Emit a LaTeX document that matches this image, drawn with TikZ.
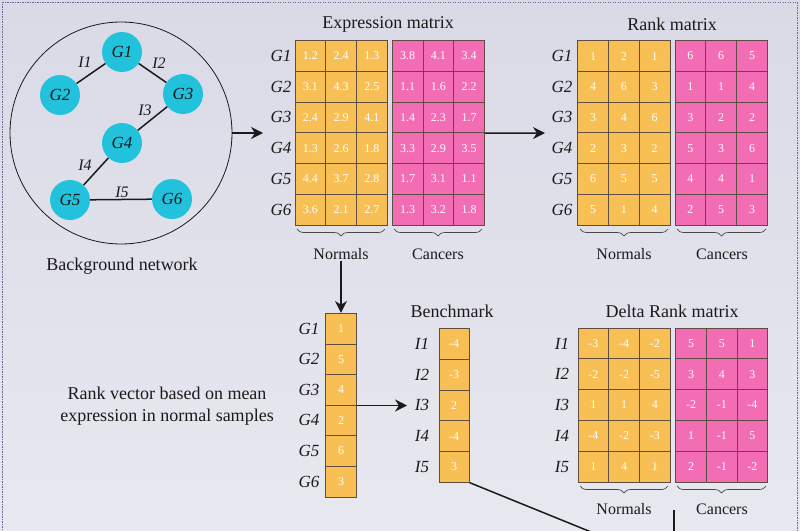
\documentclass[tikz,border=0pt]{standalone}
\usepackage{fontspec}
\setmainfont{Liberation Serif}
\usetikzlibrary{arrows.meta,decorations.pathreplacing}
\definecolor{bgtop}{HTML}{DADAE7}
\definecolor{bgbot}{HTML}{E8E8F0}
\definecolor{orn}{HTML}{F8BF55}
\definecolor{pnk}{HTML}{F36DB5}
\definecolor{cellline}{HTML}{5E4D40}
\definecolor{gnode}{HTML}{22C2DD}
\definecolor{ink}{HTML}{1A1A1A}
\begin{document}
\begin{tikzpicture}[x=1pt,y=-1pt,
  cellbox/.style={draw=cellline,line width=0.8pt,inner sep=0pt,text=white,
    font=\fontsize{12}{12}\selectfont},
  title/.style={text=ink,inner sep=1pt,font=\fontsize{18}{22}\selectfont},
  sublab/.style={text=ink,inner sep=1pt,font=\fontsize{16}{18}\selectfont},
  rowlab/.style={text=ink,inner sep=1pt,font=\fontsize{17}{18}\selectfont\itshape},
  gn/.style={circle,fill=gnode,minimum size=40pt,inner sep=0pt,text=ink,
    font=\fontsize{17}{18}\selectfont\itshape},
  elab/.style={text=ink,inner sep=1pt,font=\fontsize{16}{18}\selectfont\itshape},
  edge/.style={draw=ink,line width=1.5pt},
  arr/.style={draw=ink,line width=1.5pt,-{Stealth[length=12pt,width=12pt]}},
  brc/.style={draw=ink!80,line width=0.7pt,decorate,
    decoration={brace,mirror,amplitude=7pt}}]
\useasboundingbox (0,0) rectangle (800,530);
\shade[top color=bgtop,bottom color=bgbot] (0,0) rectangle (800,530);
\draw[gray!80!blue,line width=1pt,dash pattern=on 1.2pt off 1.3pt]
  (2.5,535) -- (2.5,2.5) -- (797.5,2.5) -- (797.5,535);

% ---------- Background network ----------
\node[draw=ink,circle,minimum size=222pt,line width=0.8pt,inner sep=0pt] (net) at (121,133) {};
\node[gn] (g1) at (122,52) {G1};
\node[gn] (g2) at (60,95) {G2};
\node[gn] (g3) at (183,94) {G3};
\node[gn] (g4) at (122,143) {G4};
\node[gn] (g5) at (70,200) {G5};
\node[gn] (g6) at (172,199) {G6};
\draw[edge] (g2) -- (g1);
\draw[edge] (g1) -- (g3);
\draw[edge] (g3) -- (g4);
\draw[edge] (g4) -- (g5);
\draw[edge] (g5) -- (g6);
\node[elab] (i1) at (85,62) {I1};
\node[elab] (i2) at (159,63) {I2};
\node[elab] (i3) at (145,110) {I3};
\node[elab] (i4) at (85,165) {I4};
\node[elab] (i5) at (122,192) {I5};
\node[title] (tnet) at (122,266) {Background network};

% ---------- Expression matrix ----------
\node[title] (texp) at (388,24) {Expression matrix};
\foreach \vals [count=\r] in {{1.2,2.4,1.3},{3.1,4.3,2.5},{2.4,2.9,4.1},{1.3,2.6,1.8},{4.4,3.7,2.8},{3.6,2.1,2.7}}{
  \foreach \v [count=\c] in \vals {
    \node[cellbox,fill=orn,minimum width=30.7pt,minimum height=30.7pt] (en-\r-\c) at ({295+(\c-0.5)*30.7},{40.7+(\r-0.5)*30.7}) {\v};
  }}
\foreach \vals [count=\r] in {{3.8,4.1,3.4},{1.1,1.6,2.2},{1.4,2.3,1.7},{3.3,2.9,3.5},{1.7,3.1,1.1},{1.3,3.2,1.8}}{
  \foreach \v [count=\c] in \vals {
    \node[cellbox,fill=pnk,minimum width=30.7pt,minimum height=30.7pt] (ec-\r-\c) at ({392.3+(\c-0.5)*30.7},{40.7+(\r-0.5)*30.7}) {\v};
  }}
\foreach \r in {1,...,6} \node[rowlab] (eg-\r) at (281,{40.7+(\r-0.5)*30.7}) {G\r};
\draw[brc] (297,229) -- (385,229);
\draw[brc] (394,229) -- (482,229);
\node[sublab] (enl) at (341,254) {Normals};
\node[sublab] (ecl) at (438,254) {Cancers};

% ---------- Rank matrix ----------
\node[title] (trank) at (672,24) {Rank matrix};
\foreach \vals [count=\r] in {{1,2,1},{4,6,3},{3,4,6},{2,3,2},{6,5,5},{5,1,4}}{
  \foreach \v [count=\c] in \vals {
    \node[cellbox,fill=orn,minimum width=30.8pt,minimum height=30.7pt] (rn-\r-\c) at ({577.7+(\c-0.5)*30.8},{40.7+(\r-0.5)*30.7}) {\v};
  }}
\foreach \vals [count=\r] in {{6,6,5},{1,1,4},{3,2,2},{5,3,6},{4,4,1},{2,5,3}}{
  \foreach \v [count=\c] in \vals {
    \node[cellbox,fill=pnk,minimum width=30.8pt,minimum height=30.7pt] (rc-\r-\c) at ({675+(\c-0.5)*30.8},{40.7+(\r-0.5)*30.7}) {\v};
  }}
\foreach \r in {1,...,6} \node[rowlab] (rg-\r) at (562,{40.7+(\r-0.5)*30.7}) {G\r};
\draw[brc] (580,229) -- (668,229);
\draw[brc] (677,229) -- (766,229);
\node[sublab] (rnl) at (624,254) {Normals};
\node[sublab] (rcl) at (722,254) {Cancers};

% ---------- Delta Rank matrix ----------
\node[title] (tdelta) at (672,311) {Delta Rank matrix};
\foreach \vals [count=\r] in {{-3,-4,-2},{-2,-2,-5},{1,1,4},{-4,-2,-3},{1,4,1}}{
  \foreach \v [count=\c] in \vals {
    \node[cellbox,fill=orn,minimum width=30.7pt,minimum height=30.8pt] (dn-\r-\c) at ({578+(\c-0.5)*30.7},{328+(\r-0.5)*30.8}) {\v};
  }}
\foreach \vals [count=\r] in {{5,5,1},{3,4,3},{-2,-1,-4},{1,-1,5},{2,-1,-2}}{
  \foreach \v [count=\c] in \vals {
    \node[cellbox,fill=pnk,minimum width=30.7pt,minimum height=30.8pt] (dc-\r-\c) at ({675.7+(\c-0.5)*30.7},{328+(\r-0.5)*30.8}) {\v};
  }}
\foreach \r in {1,...,5} \node[rowlab] (di-\r) at (562,{328+(\r-0.5)*30.8}) {I\r};
\draw[brc] (580,486) -- (668,486);
\draw[brc] (677,486) -- (766,486);
\node[sublab] (dnl) at (624,509) {Normals};
\node[sublab] (dcl) at (722,509) {Cancers};

% ---------- Rank vector ----------
\foreach \v [count=\r] in {1,5,4,2,6,3}
  \node[cellbox,fill=orn,minimum width=31.7pt,minimum height=30.6pt] (rv-\r) at (341,{313.3+(\r-0.5)*30.6}) {\v};
\foreach \r in {1,...,6} \node[rowlab] (vg-\r) at (309,{313.3+(\r-0.5)*30.6}) {G\r};
\node[title,align=center] (rvtext) at (167,406) {Rank vector based on mean\\expression in normal samples};

% ---------- Benchmark ----------
\node[title] (tbench) at (452,311) {Benchmark};
\foreach \v [count=\r] in {-4,-3,2,-4,3}
  \node[cellbox,fill=orn,minimum width=30.3pt,minimum height=30.8pt] (bm-\r) at (454.2,{328.3+(\r-0.5)*30.8}) {\v};
\foreach \r in {1,...,5} \node[rowlab] (bi-\r) at (422,{328.3+(\r-0.5)*30.8}) {I\r};

% ---------- connectors ----------
\coordinate (a1) at (263,133);
\coordinate (a2) at (545,133);
\coordinate (a4) at (407,405.5);
\draw[arr] (net.east) -- (a1);
\draw[arr] (ec-3-3.south east) -- (a2);
\draw[arr] (enl.south) -- (rv-1.north);
\draw[arr] (rv-3.south east) -- (a4);
\begin{scope}
\clip (0,0) rectangle (800,530);
\coordinate (b1) at (660,560);
\coordinate (d0) at (674,510);
\coordinate (d1) at (674,560);
\draw[edge] (bm-5.south east) -- (b1);
\draw[edge] (d0) -- (d1);
\end{scope}
\end{tikzpicture}
\end{document}
